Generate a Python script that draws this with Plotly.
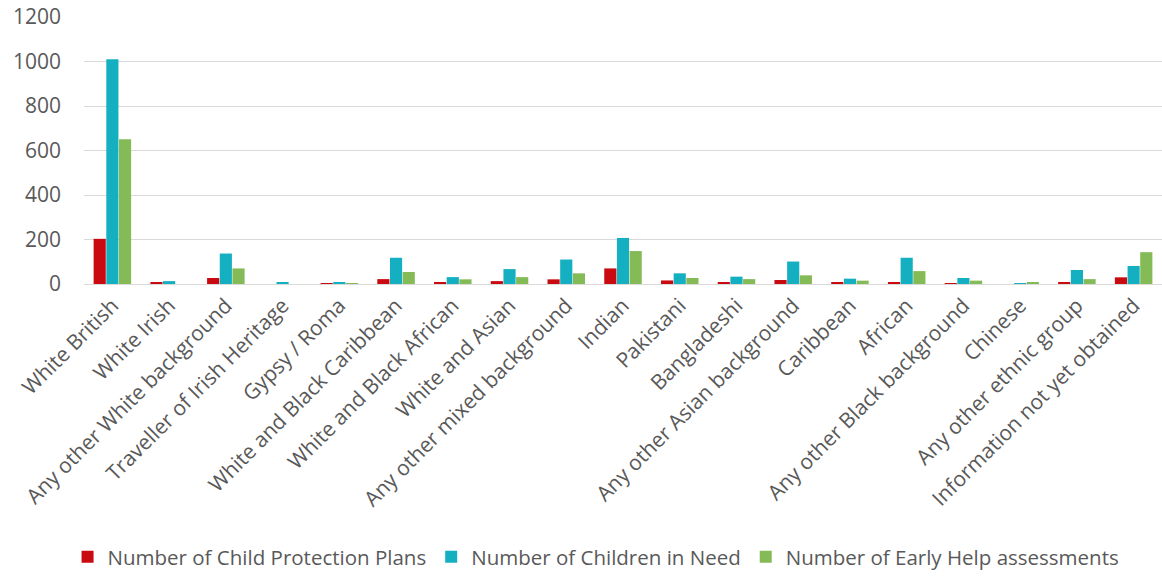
import plotly.graph_objects as go

categories = ["White British", "White Irish", "Any other White background",
              "Traveller of Irish Heritage", "Gypsy / Roma", "White and Black Caribbean",
              "White and Black African", "White and Asian", "Any other mixed background",
              "Indian", "Pakistani", "Bangladeshi", "Any other Asian background",
              "Caribbean", "African", "Any other Black background", "Chinese",
              "Any other ethnic group", "Information not yet obtained"]
cp_plans = [203, 7, 27, 0, 3, 22, 7, 13, 21, 70, 16, 7, 18, 7, 7, 4, 0, 7, 30]
cin = [1010, 13, 137, 5, 7, 118, 31, 67, 110, 207, 48, 33, 101, 24, 118, 27, 4, 63, 81]
early_help = [651, 0, 70, 0, 3, 54, 21, 31, 48, 148, 27, 22, 39, 15, 58, 15, 5, 22, 143]
series_names = ["Number of Child Protection Plans", "Number of Children in Need",
                "Number of Early Help assessments"]
colors = ["#C90A10", "#14B0C2", "#84BB57"]
y_ticks = [0, 200, 400, 600, 800, 1000, 1200]

font = "Open Sans, DejaVu Sans, sans-serif"
grey = "#595959"

fig = go.Figure()
for name, vals, c in zip(series_names, [cp_plans, cin, early_help], colors):
    fig.add_trace(go.Bar(x=categories, y=vals, name=name, marker_color=c,
                         marker_line_width=0))

fig.update_layout(
    width=1162, height=579,
    margin=dict(l=84, r=0, t=17, b=295, pad=0),
    plot_bgcolor="white", paper_bgcolor="white",
    barmode="group", bargap=0.33, bargroupgap=0.04,
    font=dict(family=font, color=grey),
    showlegend=True,
    legend=dict(orientation="h", x=0.475, xanchor="center", y=-1.097, yanchor="bottom",
                font=dict(size=20.5, color=grey), itemwidth=30, tracegroupgap=0,
                traceorder="normal"),
    xaxis=dict(tickangle=-45, tickfont=dict(size=21, color=grey), showgrid=False,
               showline=True, linecolor="#D9D9D9", linewidth=1, ticks=""),
    yaxis=dict(range=[0, 1200], tickvals=y_ticks, tickfont=dict(size=21, color=grey),
               showgrid=True, gridcolor="#D9D9D9", gridwidth=1, zeroline=False,
               ticks="", ticklabelstandoff=22),
)
fig.write_html("out.html")
